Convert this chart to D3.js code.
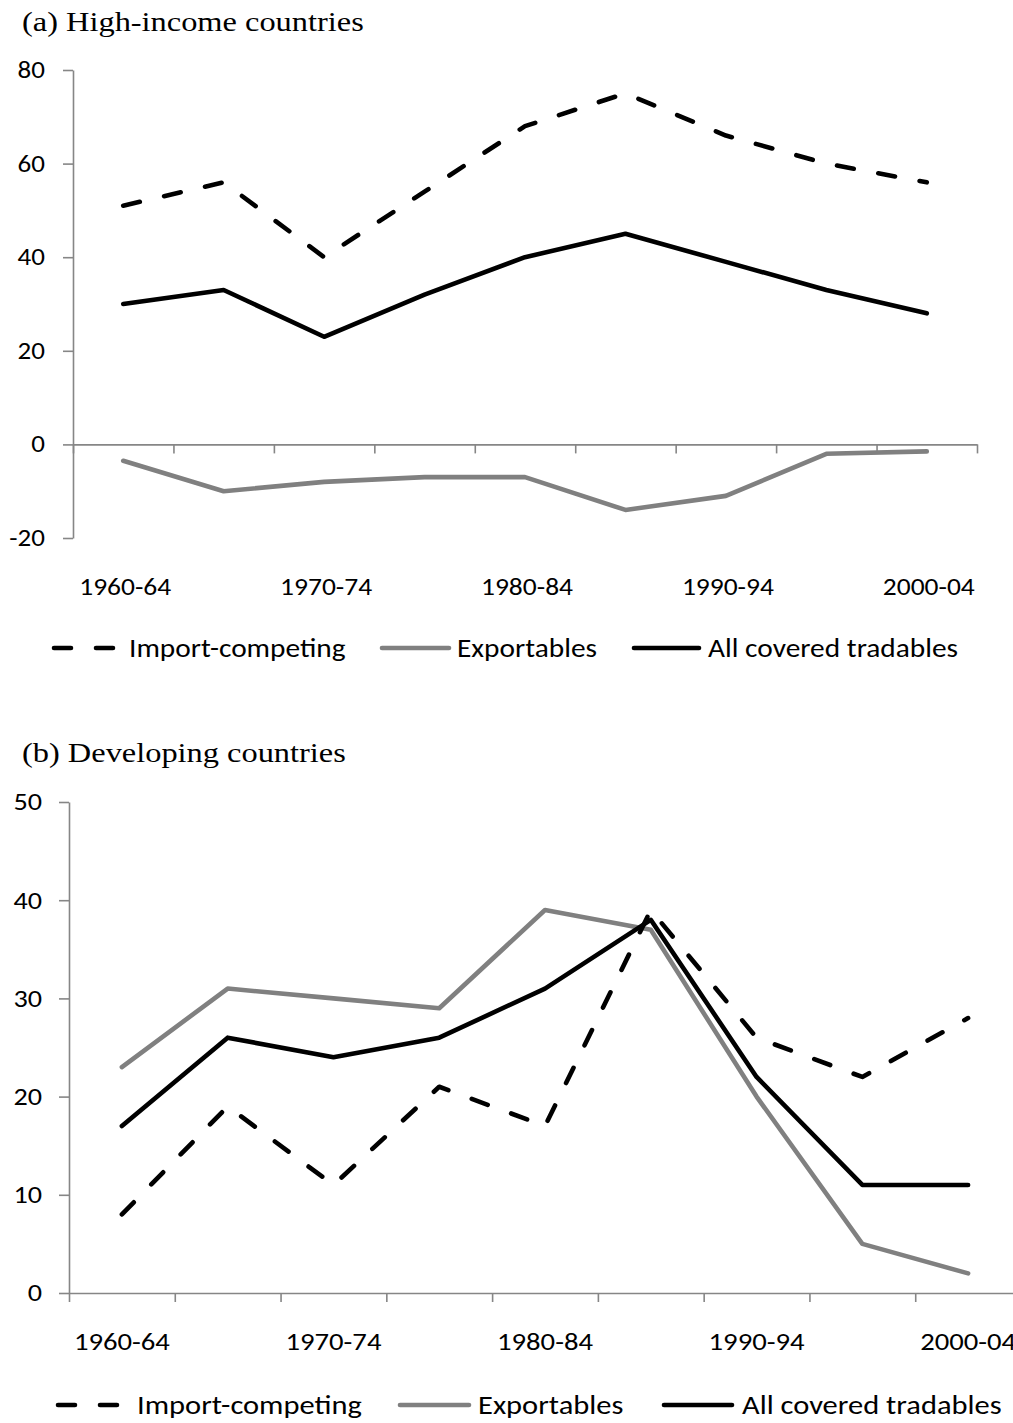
<!DOCTYPE html>
<html>
<head>
<meta charset="utf-8">
<script src="https://cdn.jsdelivr.net/npm/d3@7"></script>
<style>
  body { margin: 0; background: #fff; }
  svg text { font-family: Carlito, Calibri, Lato, sans-serif; fill: #000; }
  svg text.title { font-family: "Liberation Serif", "Times New Roman", serif; }
</style>
</head>
<body>
<svg id="canvas"></svg>
<script>
const periods = ["1960-64", "1965-69", "1970-74", "1975-79", "1980-84", "1985-89", "1990-94", "1995-99", "2000-04"]
const labelledPeriods = ["1960-64", "1970-74", "1980-84", "1990-94", "2000-04"]
const seriesNames = ["Import-competing", "Exportables", "All covered tradables"]

// (a) high-income countries
const highImport = [51, 56, 40, 54, 68, 75, 66, 60, 56]
const highExport = [-3.5, -10, -8, -7, -7, -14, -11, -2, -1.5]
const highAll = [30, 33, 23, 32, 40, 45, 39, 33, 28]
const highTicks = [-20, 0, 20, 40, 60, 80]

// (b) developing countries
const devImport = [8, 19, 11, 21, 17, 39, 26, 22, 28]
const devExport = [23, 31, 30, 29, 39, 37, 20, 5, 2]
const devAll = [17, 26, 24, 26, 31, 38, 22, 11, 11]
const devTicks = [0, 10, 20, 30, 40, 50]

const width = 1013
const height = 1423
const axisColor = "#868686"

// look of each series: import, exports, all
const styles = [
  { color: "#000", dash: "17 25" },
  { color: "#808080", dash: null },
  { color: "#000", dash: null }
]

const canvas = d3.select("#canvas")
  .attr("width", width)
  .attr("height", height)

// the original picture is a bit wider than tall, so widen the glyphs
const stretch = (sel, s) => sel.each(function () {
  const t = d3.select(this)
  const x = +t.attr("x") || 0
  const y = +t.attr("y") || 0
  t.attr("x", 0).attr("y", 0)
    .attr("transform", "translate(" + x + "," + y + ") scale(" + s + ",1)")
})

const drawPanel = (p) => {
  const g = canvas.append("g")

  const xScale = d3.scaleBand()
    .domain(periods)
    .range([p.left, p.right])
  const xEdge = d3.scaleLinear()
    .domain([0, periods.length])
    .range([p.left, p.right])
  const yScale = d3.scaleLinear()
    .domain(p.domain)
    .range([p.bottom, p.top])

  const cx = (name) => xScale(name) + xScale.bandwidth() / 2

  // y axis
  const yAxis = d3.axisLeft(yScale)
    .tickValues(p.ticks)
    .tickSize(10)
    .tickSizeOuter(0)
    .tickPadding(p.yPad)
    .tickFormat((d) => String(d))
  const ya = g.append("g")
    .attr("transform", "translate(" + p.left + ",0)")
    .call(yAxis)
  ya.selectAll("path, line").attr("stroke", axisColor).attr("stroke-width", 1.6)
  ya.selectAll("text")
    .attr("fill", "#000")
    .style("font-size", p.tickFont + "px")
    .style("font-family", "Carlito, Calibri, Lato, sans-serif")
    .call(stretch, 1.15)

  // x axis sits on zero
  const xAxis = d3.axisBottom(xEdge)
    .tickValues(d3.range(periods.length + 1))
    .tickSize(9)
    .tickSizeOuter(0)
    .tickFormat("")
  const xa = g.append("g")
    .attr("transform", "translate(0," + yScale(0) + ")")
    .call(xAxis)
  xa.selectAll("path, line").attr("stroke", axisColor).attr("stroke-width", 1.6)

  g.selectAll(".xlabel")
    .data(labelledPeriods)
    .enter()
    .append("text")
    .attr("class", "xlabel")
    .attr("x", (d) => cx(d) + p.labelShift)
    .attr("y", p.labelY)
    .attr("text-anchor", "middle")
    .style("font-size", p.tickFont + "px")
    .text((d) => d)
    .call(stretch, 1.17)

  // lines
  const line = d3.line()
    .x((d) => cx(d.period))
    .y((d) => yScale(d.value))

  const drawOrder = [1, 0, 2]
  drawOrder.forEach((i) => {
    const pts = p.series[i].map((v, k) => ({ period: periods[k], value: v }))
    g.append("path")
      .datum(pts)
      .attr("d", line)
      .attr("fill", "none")
      .attr("stroke", styles[i].color)
      .attr("stroke-width", 4.6)
      .attr("stroke-linejoin", "round")
      .attr("stroke-linecap", "round")
      .attr("stroke-dasharray", styles[i].dash)
  })

  // title
  g.append("text")
    .attr("class", "title")
    .attr("x", 22)
    .attr("y", p.titleY)
    .style("font-size", "27px")
    .text(p.title)
    .call(stretch, 1.2)

  // legend
  const leg = g.selectAll(".legend")
    .data(seriesNames)
    .enter()
    .append("g")
    .attr("class", "legend")

  leg.append("line")
    .attr("x1", (d, i) => p.legend[i][0])
    .attr("x2", (d, i) => p.legend[i][1])
    .attr("y1", p.legendY)
    .attr("y2", p.legendY)
    .attr("stroke", (d, i) => styles[i].color)
    .attr("stroke-width", 4.6)
    .attr("stroke-linecap", "round")
    .attr("stroke-dasharray", (d, i) => styles[i].dash)

  leg.append("text")
    .attr("x", (d, i) => p.legend[i][2])
    .attr("y", p.legendY)
    .attr("dy", "0.35em")
    .style("font-size", p.legendFont + "px")
    .text((d) => d)
    .call(stretch, 1.13)
}

drawPanel({
  title: "(a) High-income countries",
  titleY: 31,
  left: 73, right: 977, top: 70, bottom: 538,
  domain: [-20, 80], ticks: highTicks, yPad: 18,
  series: [highImport, highExport, highAll],
  labelY: 595, labelShift: 2, tickFont: 23.5,
  legendY: 648, legendFont: 26,
  legend: [[54, 113, 129], [382, 449, 457], [634, 699, 708]]
})

drawPanel({
  title: "(b) Developing countries",
  titleY: 762,
  left: 69, right: 1021, top: 802, bottom: 1293,
  domain: [0, 50], ticks: devTicks, yPad: 17,
  series: [devImport, devExport, devAll],
  labelY: 1350, labelShift: 0, tickFont: 24.5,
  legendY: 1405, legendFont: 27,
  legend: [[58, 119, 137], [400, 469, 478], [664, 732, 742]]
})
</script>
</body>
</html>
